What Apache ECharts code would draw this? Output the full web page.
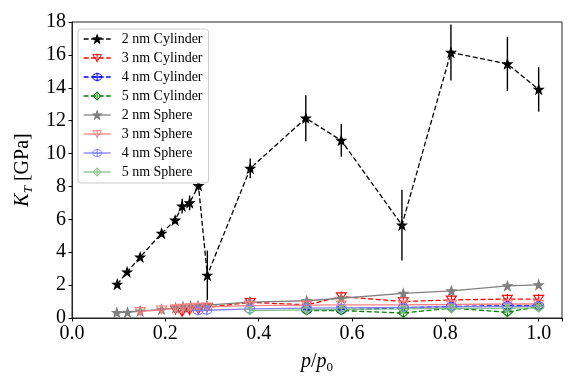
<!DOCTYPE html>
<html>
<head>
<meta charset="utf-8">
<script src="https://cdn.jsdelivr.net/npm/echarts@6/dist/echarts.min.js"></script>
<style>
    html, body { margin: 0; padding: 0; background: #fff; }
    #chart { width: 581px; height: 388px; }
</style>
</head>
<body>
<div id="chart"></div>
<script>
    // 各系列数据 (p/p0, K_T)
    var cyl2X = [0.097, 0.118, 0.146, 0.192, 0.221, 0.236, 0.252, 0.271, 0.290, 0.382, 0.501, 0.577, 0.707, 0.812, 0.933, 1.0];
    var cyl2Y = [2.05, 2.8, 3.7, 5.15, 5.95, 6.8, 7.0, 8.05, 2.6, 9.1, 12.15, 10.8, 5.65, 16.15, 15.45, 13.9];
    var cyl2Err = [0.1, 0.1, 0.1, 0.15, 0.2, 0.45, 0.45, 0.3, 1.5, 0.6, 1.4, 1.0, 2.15, 1.7, 1.65, 1.35];

    var cyl3X = [0.222, 0.236, 0.252, 0.271, 0.290, 0.382, 0.503, 0.577, 0.71, 0.813, 0.933, 1.0];
    var cyl3Y = [0.5, 0.35, 0.45, 0.5, 0.65, 0.95, 0.8, 1.3, 1.0, 1.1, 1.15, 1.15];

    var cyl4X = [0.503, 0.577, 0.71, 0.813, 0.933, 1.0];
    var cyl4Y = [0.5, 0.5, 0.62, 0.7, 0.75, 0.75];

    var cyl5X = [0.503, 0.577, 0.71, 0.813, 0.933, 1.0];
    var cyl5Y = [0.45, 0.45, 0.3, 0.6, 0.35, 0.7];

    var sph2X = [0.096, 0.119, 0.146, 0.192, 0.222, 0.238, 0.254, 0.270, 0.289, 0.381, 0.503, 0.577, 0.71, 0.813, 0.933, 1.0];
    var sph2Y = [0.33, 0.35, 0.42, 0.52, 0.62, 0.68, 0.72, 0.75, 0.78, 0.97, 1.05, 1.2, 1.5, 1.65, 1.95, 2.02];

    var sph3X = [0.146, 0.192, 0.222, 0.238, 0.254, 0.270, 0.289, 0.381, 0.503, 0.577, 0.71, 0.813, 0.933, 1.0];
    var sph3Y = [0.4, 0.5, 0.58, 0.6, 0.63, 0.66, 0.68, 0.75, 0.78, 0.8, 0.8, 0.82, 0.85, 0.85];

    var sph4X = [0.270, 0.289, 0.381, 0.503, 0.577, 0.71, 0.813, 0.933, 1.0];
    var sph4Y = [0.45, 0.47, 0.55, 0.6, 0.62, 0.65, 0.68, 0.7, 0.72];

    var sph5X = [0.381, 0.503, 0.577, 0.71, 0.813, 0.933, 1.0];
    var sph5Y = [0.45, 0.5, 0.52, 0.55, 0.58, 0.6, 0.62];

    var seriesNames = ['2 nm Cylinder', '3 nm Cylinder', '4 nm Cylinder', '5 nm Cylinder',
        '2 nm Sphere', '3 nm Sphere', '4 nm Sphere', '5 nm Sphere'];
    var hollow = [false, true, true, true, false, true, true, true];

    var FONT = 'Liberation Serif';

    // marker 形状
    var STAR = 'path://M0,-10 L2.35,-3.24 L9.51,-3.09 L3.8,1.24 L5.88,8.09 L0,4 L-5.88,8.09 L-3.8,1.24 L-9.51,-3.09 L-2.35,-3.24 Z';
    var TRI_DOWN = 'path://M-10,-9 L10,-9 L0,9 Z M0,-12 L0,12';
    var CIRCLE_X = 'path://M0,-13 L0,13 M-10,0 L10,0 M10,0 A10,10 0 1,1 -10,0 A10,10 0 1,1 10,0 Z';
    var DIAMOND = 'path://M0,-11 L6,0 L0,11 L-6,0 Z M0,-13 L0,13';

    function pairs(xs, ys) {
        return xs.map(function (x, i) { return [x, ys[i]]; });
    }

    function lineSeries(name, xs, ys, color, dashed, symbol, size, filled) {
        return {
            name: name,
            type: 'line',
            data: pairs(xs, ys),
            symbol: symbol,
            symbolSize: size,
            showAllSymbol: true,
            lineStyle: {color: color, width: 1.3, type: dashed ? [5, 2.5] : 'solid'},
            itemStyle: {
                color: filled ? color : 'rgba(0,0,0,0)',
                borderColor: color,
                borderWidth: 1.1
            },
            emphasis: {disabled: true},
            animation: false
        };
    }

    var chart = echarts.init(document.getElementById('chart'));

    var option = {
        animation: false,
        grid: {
            left: 72, right: 19, top: 22, bottom: 70,
            show: true, borderColor: '#222', borderWidth: 1, backgroundColor: 'transparent'
        },
        legend: {
            data: seriesNames.map(function (n, i) {
                return hollow[i] ? {name: n, itemStyle: {color: 'rgba(0,0,0,0)'}} : {name: n};
            }),
            orient: 'vertical',
            left: 78, top: 29,
            itemWidth: 27, itemHeight: 11, itemGap: 5,
            padding: [3, 6, 4, 5],
            backgroundColor: '#fff',
            borderColor: '#ccc', borderWidth: 1, borderRadius: 3,
            itemStyle: {borderWidth: 1},
            lineStyle: {width: 1.3},
            textStyle: {fontFamily: FONT, fontSize: 14, color: '#000', lineHeight: 14, padding: [0, 0, 0, 6]}
        },
        xAxis: {
            type: 'value', min: 0, max: 1.05, interval: 0.2,
            name: '{i|p}{n|/}{i|p}{s|0}',
            nameLocation: 'middle', nameGap: 32,
            nameTextStyle: {
                rich: {
                    i: {fontFamily: FONT, fontStyle: 'italic', fontSize: 20, color: '#000', lineHeight: 24},
                    n: {fontFamily: FONT, fontSize: 20, color: '#000', lineHeight: 24},
                    s: {fontFamily: FONT, fontSize: 13, color: '#000', lineHeight: 24, verticalAlign: 'bottom'}
                }
            },
            axisLine: {show: true, lineStyle: {color: '#222', width: 1}},
            axisTick: {show: true, length: 3.5, lineStyle: {color: '#000'}},
            axisLabel: {
                fontFamily: FONT, fontSize: 20, color: '#000', margin: 6,
                formatter: function (v) { return v > 1.001 ? '' : v.toFixed(1); }
            },
            splitLine: {show: false}
        },
        yAxis: {
            type: 'value', min: 0, max: 18, interval: 2,
            name: '{i|K}{s|T}{n| [GPa]}',
            nameLocation: 'middle', nameGap: 37, nameRotate: 90,
            nameTextStyle: {
                rich: {
                    i: {fontFamily: FONT, fontStyle: 'italic', fontSize: 20, color: '#000', lineHeight: 24},
                    n: {fontFamily: FONT, fontSize: 20, color: '#000', lineHeight: 24},
                    s: {fontFamily: FONT, fontStyle: 'italic', fontSize: 13, color: '#000', lineHeight: 24, verticalAlign: 'bottom'}
                }
            },
            axisLine: {show: true, lineStyle: {color: '#222', width: 1}},
            axisTick: {show: true, length: 3.5, lineStyle: {color: '#000'}},
            axisLabel: {fontFamily: FONT, fontSize: 20, color: '#000', margin: 6},
            splitLine: {show: false}
        },
        series: [
            lineSeries(seriesNames[0], cyl2X, cyl2Y, '#000000', true, STAR, 9, true),
            lineSeries(seriesNames[1], cyl3X, cyl3Y, '#ff0000', true, TRI_DOWN, 10, false),
            lineSeries(seriesNames[2], cyl4X, cyl4Y, '#0000ff', true, CIRCLE_X, 10, false),
            lineSeries(seriesNames[3], cyl5X, cyl5Y, '#008000', true, DIAMOND, 10, false),
            lineSeries(seriesNames[4], sph2X, sph2Y, '#808080', false, STAR, 9, true),
            lineSeries(seriesNames[5], sph3X, sph3Y, '#ff8080', false, TRI_DOWN, 10, false),
            lineSeries(seriesNames[6], sph4X, sph4Y, '#8080ff', false, CIRCLE_X, 10, false),
            lineSeries(seriesNames[7], sph5X, sph5Y, '#7fbf7f', false, DIAMOND, 10, false),
            {
                // 误差棒
                type: 'custom',
                data: cyl2X.map(function (x, i) { return [x, cyl2Y[i] - cyl2Err[i], cyl2Y[i] + cyl2Err[i]]; }),
                encode: {x: 0, y: [1, 2]},
                renderItem: function (params, api) {
                    var p1 = api.coord([api.value(0), api.value(1)]);
                    var p2 = api.coord([api.value(0), api.value(2)]);
                    return {
                        type: 'line',
                        shape: {x1: p1[0], y1: p1[1], x2: p2[0], y2: p2[1]},
                        style: {stroke: '#000', lineWidth: 1.4}
                    };
                },
                z: 3,
                clip: true,
                silent: true
            }
        ]
    };

    chart.setOption(option);
</script>
</body>
</html>
